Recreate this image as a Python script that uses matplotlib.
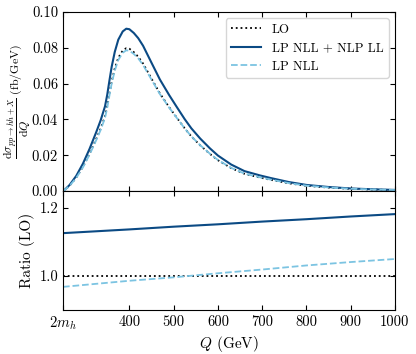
import numpy as np
import matplotlib
matplotlib.use('Agg')
import matplotlib.pyplot as plt

plt.rcParams['font.family'] = 'serif'
plt.rcParams['font.serif'] = ['cmr10']
plt.rcParams['mathtext.fontset'] = 'cm'
plt.rcParams['axes.unicode_minus'] = False
plt.rcParams['axes.formatter.use_mathtext'] = True

## LO invariant-mass distribution (fb/GeV)
q_lo = np.array([250, 255, 265, 280, 295, 310, 325, 335, 345, 350, 355, 360, 367, 375,
                 385, 393, 400, 410, 420, 431, 450, 469, 490, 507, 525, 540, 560, 582,
                 600, 630, 660, 695, 720, 760, 800, 850, 900, 950, 1000])
lo = np.array([0.0000, 0.0008, 0.0030, 0.0075, 0.0135, 0.0208, 0.0290, 0.0348, 0.0418,
               0.0475, 0.0545, 0.0612, 0.0685, 0.0745, 0.0785, 0.0798, 0.0795, 0.0776,
               0.0750, 0.0712, 0.0628, 0.0545, 0.0468, 0.0410, 0.0350, 0.0305, 0.0255,
               0.0207, 0.0172, 0.0128, 0.0096, 0.0075, 0.0062, 0.0043, 0.0029, 0.0019,
               0.0012, 0.0008, 0.0005])

## Ratios to LO
q_ratio = np.array([250, 400, 500, 600, 700, 800, 900, 1000])
ratio_nlp = np.array([1.126, 1.137, 1.145, 1.152, 1.160, 1.167, 1.175, 1.182])
ratio_lp = np.array([0.968, 0.986, 0.996, 1.008, 1.019, 1.031, 1.041, 1.050])

xticks = [250, 400, 500, 600, 700, 800, 900, 1000]
xticklabels = [r'$2m_h$', '400', '500', '600', '700', '800', '900', '1000']

c_nlp = '#0b4a84'
c_lp = '#7cc4e2'

nlp = lo*np.interp(q_lo, q_ratio, ratio_nlp)
lp = lo*np.interp(q_lo, q_ratio, ratio_lp)

fig = plt.figure(figsize=(4.16, 3.54), dpi=100)
ax1 = fig.add_axes([0.1514, 0.4605, 0.798, 0.5055])
ax2 = fig.add_axes([0.1514, 0.1243, 0.798, 0.3362], sharex=ax1)

## Top panel: distributions
ax1.plot(q_lo, lo, color='black', ls=':', lw=1.3, label='LO')
ax1.plot(q_lo, nlp, color=c_nlp, ls='-', lw=1.5, label='LP NLL + NLP LL')
ax1.plot(q_lo, lp, color=c_lp, ls='--', lw=1.3, label='LP NLL')
ax1.set_xlim(250, 1000)
ax1.set_ylim(0., 0.1)
ax1.set_yticks([0., 0.02, 0.04, 0.06, 0.08, 0.10])
ax1.set_yticklabels(['0.00', '0.02', '0.04', '0.06', '0.08', '0.10'])
ax1.set_ylabel(r'$\dfrac{\mathrm{d}\sigma_{pp\rightarrow hh+X}}{\mathrm{d}Q}\ (\mathrm{fb/GeV})$', fontsize=8.6)
ax1.yaxis.set_label_coords(-0.09, 0.5)
ax1.legend(loc='upper right', fontsize=9.2, handlelength=2.4, labelspacing=0.5)
ax1.tick_params(labelbottom=False)

## Bottom panel: ratio to LO
ax2.plot(q_ratio, np.ones_like(q_ratio), color='black', ls=':', lw=1.3)
ax2.plot(q_ratio, ratio_nlp, color=c_nlp, ls='-', lw=1.5)
ax2.plot(q_ratio, ratio_lp, color=c_lp, ls='--', lw=1.3)
ax2.set_ylim(0.9, 1.25)
ax2.set_yticks([1.0, 1.2])
ax2.set_yticklabels(['1.0', '1.2'])
ax2.set_xticks(xticks)
ax2.set_xticklabels(xticklabels)
ax2.set_xlabel(r'$Q$ (GeV)', fontsize=11, labelpad=1)
ax2.set_ylabel('Ratio (LO)', fontsize=11)
ax2.yaxis.set_label_coords(-0.085, 0.5)

for ax in (ax1, ax2):
   ax.tick_params(direction='in', top=True, right=True, labelsize=10.5)

fig.savefig('out.png', dpi=100)
